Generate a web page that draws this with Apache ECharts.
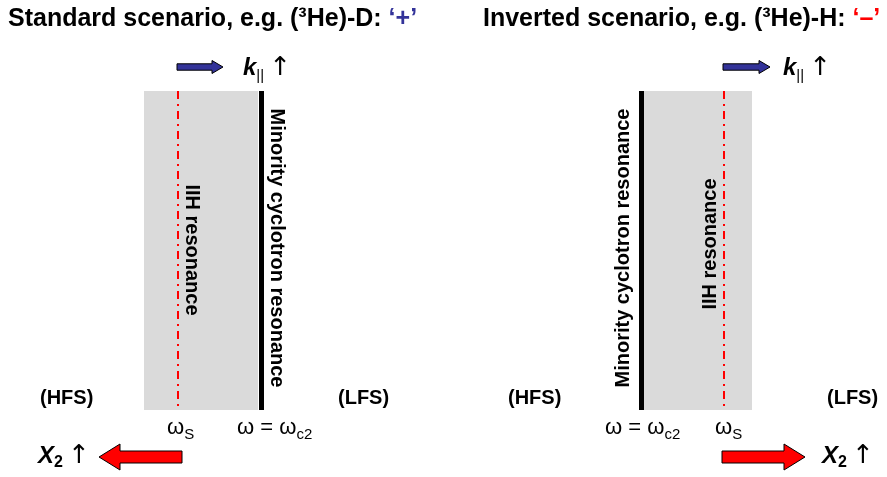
<!DOCTYPE html>
<html><head><meta charset="utf-8">
<script src="https://cdn.jsdelivr.net/npm/echarts@6/dist/echarts.min.js"></script>
<style>html,body{margin:0;padding:0;background:#fff}#c{width:887px;height:477px}</style>
</head><body><div id="c"></div>
<script>
// ---- diagram data (coordinates in figure units, x: 0..887, y: 0..477 downward) ----
const scenarios = ['Standard', 'Inverted'];
const ions = ['D', 'H'];
const signs = ['‘+’', '‘–’'];
const layerLeft = [144, 644];        // evanescent (grey) layer edges
const layerRight = [258, 752];
const layerExtent = [91, 410];       // vertical extent of the layer / resonances
const cyclotronX = [261, 641];       // minority cyclotron resonance  ω = ωc2
const iihX = [178, 724];             // ion-ion hybrid resonance  ωS
const kArrowTail = [177, 723];
const kArrowTip = [223, 770];
const kArrowY = [67, 67];
const x2ArrowTail = [182, 722];
const x2ArrowTip = [99, 805];
const x2ArrowY = [457, 457];

// text labels
const labelText = [
  '{b|Standard scenario, e.g. (³He)-' + ions[0] + ': }{plus|' + signs[0] + '}',
  '{b|Inverted scenario, e.g. (³He)-' + ions[1] + ': }{minus|' + signs[1] + '}',
  '{k|k}{ksub|||}{arr|↑}',
  '{k|k}{ksub|||}{arr|↑}',
  '{lab|(HFS)}', '{lab|(LFS)}', '{lab|(HFS)}', '{lab|(LFS)}',
  '{w|ω}{wsub|S}',
  '{w|ω = ω}{wsub|c2}',
  '{w|ω = ω}{wsub|c2}',
  '{w|ω}{wsub|S}',
  '{k|X}{xsub|2}{arr|↑}',
  '{k|X}{xsub|2}{arr|↑}',
  '{lab|Minority cyclotron resonance}',
  '{lab|IIH resonance}',
  '{lab|Minority cyclotron resonance}',
  '{lab|IIH resonance}'
];
const labelX = [8, 483, 243, 783, 40, 338, 508, 827, 167, 237, 605, 715, 38, 822, 277, 192, 623, 710];
const labelY = [19, 19, 68, 68, 398, 398, 398, 398, 428, 428, 428, 428, 456, 456, 248, 250, 248, 244];
const labelRot = [0, 0, 0, 0, 0, 0, 0, 0, 0, 0, 0, 0, 0, 0, -90, -90, 90, 90];
const labelAlign = ['left','left','left','left','left','left','left','left','left','left','left','left','left','left','center','center','center','center'];

const FONT = 'Liberation Sans, Arial, Helvetica, sans-serif';
const RICH = {
  b: {fontSize: 25, fontWeight: 'bold', fontFamily: FONT, fill: '#000', lineHeight: 30},
  plus: {fontSize: 25, fontWeight: 'bold', fontFamily: FONT, fill: '#333399', lineHeight: 30},
  minus: {fontSize: 25, fontWeight: 'bold', fontFamily: FONT, fill: '#ff0000', lineHeight: 30},
  k: {fontSize: 24, fontWeight: 'bold', fontStyle: 'italic', fontFamily: FONT, fill: '#000', lineHeight: 30},
  ksub: {fontSize: 15, fontFamily: FONT, fill: '#000', verticalAlign: 'bottom', lineHeight: 20},
  xsub: {fontSize: 16, fontWeight: 'bold', fontFamily: FONT, fill: '#000', verticalAlign: 'bottom', lineHeight: 20},
  arr: {fontSize: 26, fontFamily: 'DejaVu Sans, ' + FONT, fill: '#000', lineHeight: 30, padding: [0, 0, 0, 5]},
  lab: {fontSize: 20, fontWeight: 'bold', fontFamily: FONT, fill: '#000', lineHeight: 24},
  w: {fontSize: 22, fontFamily: FONT, fill: '#000', lineHeight: 28},
  wsub: {fontSize: 15, fontFamily: FONT, fill: '#000', verticalAlign: 'bottom', lineHeight: 18}
};

const chart = echarts.init(document.getElementById('c'), null, {renderer: 'canvas'});

function arrowShape(api, tail, tip, y, shaftHalf, headHalf, headLen, fill) {
  const a = api.coord([tail, y]);
  const b = api.coord([tip, y]);
  const dir = b[0] > a[0] ? 1 : -1;
  const hb = b[0] - dir * headLen;
  return {
    type: 'polygon',
    shape: {points: [
      [a[0], a[1] - shaftHalf], [hb, a[1] - shaftHalf], [hb, a[1] - headHalf], [b[0], b[1]],
      [hb, a[1] + headHalf], [hb, a[1] + shaftHalf], [a[0], a[1] + shaftHalf]
    ]},
    style: {fill: fill, stroke: '#000', lineWidth: 1}
  };
}

const option = {
  animation: false,
  backgroundColor: '#fff',
  grid: {left: 0, right: 0, top: 0, bottom: 0},
  xAxis: {type: 'value', min: 0, max: 887, show: false},
  yAxis: {type: 'value', min: 0, max: 477, inverse: true, show: false},
  series: [
    {
      type: 'custom', name: 'layer',
      data: scenarios.map((s, i) => [layerLeft[i], layerRight[i]]),
      renderItem: function (params, api) {
        const p0 = api.coord([api.value(0), layerExtent[0]]);
        const p1 = api.coord([api.value(1), layerExtent[1]]);
        return {type: 'rect', shape: {x: p0[0], y: p0[1], width: p1[0] - p0[0], height: p1[1] - p0[1]},
          style: {fill: '#dadada'}};
      }
    },
    {
      type: 'lines', name: 'IIH resonance', coordinateSystem: 'cartesian2d',
      data: iihX.map(x => ({coords: [[x, layerExtent[0]], [x, layerExtent[1]]]})),
      lineStyle: {color: '#ff0000', width: 2, type: [8, 5, 2, 5], opacity: 1}
    },
    {
      type: 'lines', name: 'Minority cyclotron resonance', coordinateSystem: 'cartesian2d',
      data: cyclotronX.map(x => ({coords: [[x, layerExtent[0]], [x, layerExtent[1]]]})),
      lineStyle: {color: '#000', width: 5, type: 'solid', opacity: 1}
    },
    {
      type: 'custom', name: 'k arrows',
      data: scenarios.map((s, i) => [kArrowTail[i], kArrowY[i]]),
      renderItem: function (params, api) {
        const i = params.dataIndex;
        return arrowShape(api, kArrowTail[i], kArrowTip[i], kArrowY[i], 3.2, 6.5, 11, '#333399');
      }
    },
    {
      type: 'custom', name: 'X2 arrows',
      data: scenarios.map((s, i) => [x2ArrowTail[i], x2ArrowY[i]]),
      renderItem: function (params, api) {
        const i = params.dataIndex;
        return arrowShape(api, x2ArrowTail[i], x2ArrowTip[i], x2ArrowY[i], 6, 13, 21, '#ff0000');
      }
    },
    {
      type: 'custom', name: 'labels',
      data: labelX.map((x, i) => [x, labelY[i]]),
      renderItem: function (params, api) {
        const i = params.dataIndex;
        const p = api.coord([labelX[i], labelY[i]]);
        return {
          type: 'text', x: p[0], y: p[1], rotation: labelRot[i] * Math.PI / 180,
          style: {text: labelText[i], rich: RICH, x: 0, y: 0, align: labelAlign[i], verticalAlign: 'middle',
            fontFamily: FONT, fontSize: 20, fill: '#000'}
        };
      }
    }
  ]
};
chart.setOption(option);
</script></body></html>
